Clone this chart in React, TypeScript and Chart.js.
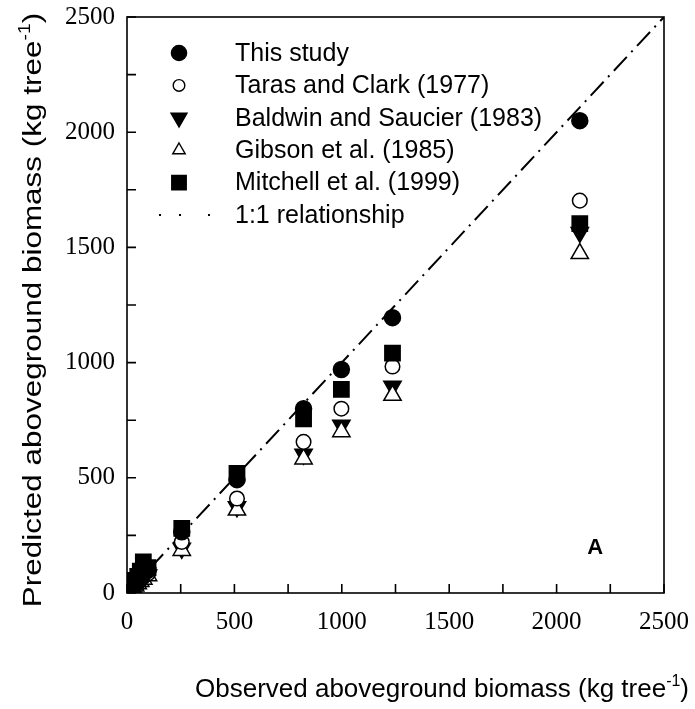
import React, { useEffect, useRef } from 'react';
import { Chart, registerables } from 'chart.js';

Chart.register(...registerables);

// ---- data (kg tree^-1) ----
const observed = [2, 5, 9, 14, 20, 28, 38, 50, 62, 76, 98, 255, 512, 822, 998, 1236, 2108];
const thisStudy = [3, 6, 10, 15, 22, 30, 40, 52, 65, 82, 100, 266, 492, 800, 970, 1195, 2050];
const tarasClark = [2, 5, 8, 12, 18, 25, 35, 45, 55, 70, 85, 222, 410, 656, 800, 983, 1703];
const baldwinSaucier = [2, 4, 8, 12, 17, 24, 32, 42, 52, 64, 78, 194, 374, 602, 728, 897, 1565];
const gibson = [2, 4, 7, 11, 16, 22, 30, 40, 50, 60, 75, 185, 360, 582, 700, 858, 1473];
const mitchell = [4, 8, 14, 20, 28, 40, 55, 72, 95, 135, 110, 280, 519, 756, 884, 1041, 1603];
const oneToOneX = [0, 2500];
const oneToOneY = [0, 2500];

const seriesNames = [
  'This study',
  'Taras and Clark (1977)',
  'Baldwin and Saucier (1983)',
  'Gibson et al. (1985)',
  'Mitchell et al. (1999)',
  '1:1 relationship',
];
const axisMin = 0;
const axisMax = 2500;
const labelStep = 500;
const tickStep = 250;
const panelLabel = 'A';

const SANS = '"Liberation Sans", Arial, sans-serif';
const SERIF = '"Liberation Serif", "Times New Roman", serif';

type Marker = { style: string; r: number; fill: string; rot: number };
const markers: Marker[] = [
  { style: 'circle', r: 8, fill: '#000', rot: 0 },
  { style: 'circle', r: 7.3, fill: '#fff', rot: 0 },
  { style: 'triangle', r: 10, fill: '#000', rot: 180 },
  { style: 'triangle', r: 10, fill: '#fff', rot: 0 },
  { style: 'rect', r: 10.8, fill: '#000', rot: 0 },
];
// legend symbols are drawn a little differently sized than plot symbols
const legendMarkerSizes = [7.6, 5.8, 9.2, 7.2, 10.2];

function drawMarker(ctx: CanvasRenderingContext2D, m: Marker, x: number, y: number, r: number) {
  ctx.save();
  ctx.fillStyle = m.fill;
  ctx.strokeStyle = '#000';
  ctx.lineWidth = 1.4;
  ctx.beginPath();
  if (m.style === 'circle') {
    ctx.arc(x, y, r, 0, Math.PI * 2);
  } else if (m.style === 'triangle') {
    let rad = (m.rot * Math.PI) / 180;
    ctx.moveTo(x + Math.sin(rad) * r, y - Math.cos(rad) * r);
    rad += (2 * Math.PI) / 3;
    ctx.lineTo(x + Math.sin(rad) * r, y - Math.cos(rad) * r);
    rad += (2 * Math.PI) / 3;
    ctx.lineTo(x + Math.sin(rad) * r, y - Math.cos(rad) * r);
    ctx.closePath();
  } else {
    const s = Math.SQRT1_2 * r;
    ctx.rect(x - s, y - s, 2 * s, 2 * s);
  }
  ctx.fill();
  ctx.stroke();
  ctx.restore();
}

function drawTitle(
  ctx: CanvasRenderingContext2D,
  parts: [string, boolean][],
  cx: number,
  cy: number,
  size: number,
  angle: number,
  stretch: number
) {
  ctx.save();
  ctx.translate(cx, cy);
  ctx.rotate(angle);
  ctx.scale(stretch, 1);
  const mainFont = `${size}px ${SANS}`;
  const supFont = `${Math.round(size * 0.6)}px ${SANS}`;
  let total = 0;
  const widths = parts.map(([t, sup]) => {
    ctx.font = sup ? supFont : mainFont;
    const w = ctx.measureText(t).width;
    total += w;
    return w;
  });
  let x = -total / 2;
  ctx.textAlign = 'left';
  ctx.textBaseline = 'alphabetic';
  ctx.fillStyle = '#000';
  parts.forEach(([t, sup], i) => {
    ctx.font = sup ? supFont : mainFont;
    ctx.fillText(t, x, sup ? size * 0.36 - size * 0.42 : size * 0.36);
    x += widths[i];
  });
  ctx.restore();
}

const decorPlugin = {
  id: 'decor',
  afterDatasetsDraw(chart: any) {
    const ctx: CanvasRenderingContext2D = chart.ctx;
    const { left, right, top, bottom } = chart.chartArea;
    const xs = chart.scales.x;
    const ys = chart.scales.y;
    ctx.save();
    // frame
    ctx.strokeStyle = '#000';
    ctx.lineWidth = 1.6;
    ctx.strokeRect(left, top, right - left, bottom - top);
    // inward ticks
    const tl = 9;
    ctx.beginPath();
    for (let v = axisMin; v <= axisMax; v += tickStep) {
      const px = xs.getPixelForValue(v);
      ctx.moveTo(px, bottom);
      ctx.lineTo(px, bottom - tl);
      const py = ys.getPixelForValue(v);
      ctx.moveTo(left, py);
      ctx.lineTo(left + tl, py);
    }
    ctx.stroke();

    // legend
    const lx = 179;
    const tx = 235;
    const y0 = 53;
    const dy = 32.4;
    seriesNames.forEach((name, i) => {
      const y = y0 + i * dy;
      if (i < markers.length) {
        drawMarker(ctx, markers[i], lx, y, legendMarkerSizes[i]);
      } else {
        ctx.fillStyle = '#000';
        [160, 180, 209].forEach((dx) => {
          ctx.fillRect(dx - 1, y - 1, 2, 2);
        });
      }
      ctx.font = `25px ${SANS}`;
      ctx.fillStyle = '#000';
      ctx.textAlign = 'left';
      ctx.textBaseline = 'middle';
      ctx.fillText(name, tx, y + 1);
    });

    // panel label
    ctx.font = `bold 22px ${SANS}`;
    ctx.textAlign = 'center';
    ctx.textBaseline = 'middle';
    ctx.fillStyle = '#000';
    ctx.fillText(panelLabel, xs.getPixelForValue(2180), ys.getPixelForValue(195));

    // axis titles
    drawTitle(
      ctx,
      [
        ['Observed aboveground biomass (kg tree', false],
        ['-1', true],
        [')', false],
      ],
      442,
      688,
      26,
      0,
      1
    );
    drawTitle(
      ctx,
      [
        ['Predicted aboveground biomass (kg tree', false],
        ['-1', true],
        [')', false],
      ],
      32,
      310,
      26,
      -Math.PI / 2,
      1.21
    );
    ctx.restore();
  },
};

function pts(ys: number[]) {
  return observed.map((x, i) => ({ x, y: ys[i] }));
}

export default function App() {
  const ref = useRef<HTMLCanvasElement | null>(null);
  useEffect(() => {
    if (!ref.current) return;
    const seriesData = [thisStudy, tarasClark, baldwinSaucier, gibson, mitchell];
    const orders = [1, 3, 5, 4, 2];
    const datasets: any[] = seriesData.map((d, i) => ({
      type: 'scatter',
      label: seriesNames[i],
      data: pts(d),
      pointStyle: markers[i].style,
      pointRotation: markers[i].rot,
      pointRadius: markers[i].r,
      pointBackgroundColor: markers[i].fill,
      pointBorderColor: '#000',
      pointBorderWidth: 1.5,
      order: orders[i],
    }));
    datasets.push({
      type: 'line',
      label: seriesNames[5],
      data: oneToOneX.map((x, i) => ({ x, y: oneToOneY[i] })),
      borderColor: '#000',
      borderWidth: 2,
      borderDash: [19, 6.5, 2, 6.5],
      pointRadius: 0,
      fill: false,
      order: 10,
    });
    const fmt = (v: any) => String(v);
    const chart = new Chart(ref.current, {
      type: 'scatter',
      data: { datasets },
      options: {
        responsive: false,
        animation: false,
        devicePixelRatio: 1,
        layout: { padding: { left: 0, top: 17, right: 31, bottom: 0 } },
        plugins: { legend: { display: false }, tooltip: { enabled: false } },
        scales: {
          x: {
            type: 'linear',
            min: axisMin,
            max: axisMax,
            grid: { display: false, drawTicks: false },
            border: { display: false },
            ticks: {
              stepSize: labelStep,
              color: '#000',
              padding: 14,
              font: { family: SERIF, size: 25 },
              callback: fmt,
            },
            afterFit: (s: any) => {
              s.height = 116;
              s.paddingLeft = 0;
              s.paddingRight = 0;
            },
          },
          y: {
            type: 'linear',
            min: axisMin,
            max: axisMax,
            grid: { display: false, drawTicks: false },
            border: { display: false },
            ticks: {
              stepSize: labelStep,
              color: '#000',
              padding: 12,
              font: { family: SERIF, size: 25 },
              callback: fmt,
            },
            afterFit: (s: any) => {
              s.width = 127;
              s.paddingTop = 0;
              s.paddingBottom = 0;
            },
          },
        },
      },
      plugins: [decorPlugin],
    });
    return () => chart.destroy();
  }, []);
  return (
    <div style={{ position: 'fixed', left: 0, top: 0, width: 695, height: 709, background: '#fff' }}>
      <canvas ref={ref} width={695} height={709} style={{ display: 'block' }} />
    </div>
  );
}
